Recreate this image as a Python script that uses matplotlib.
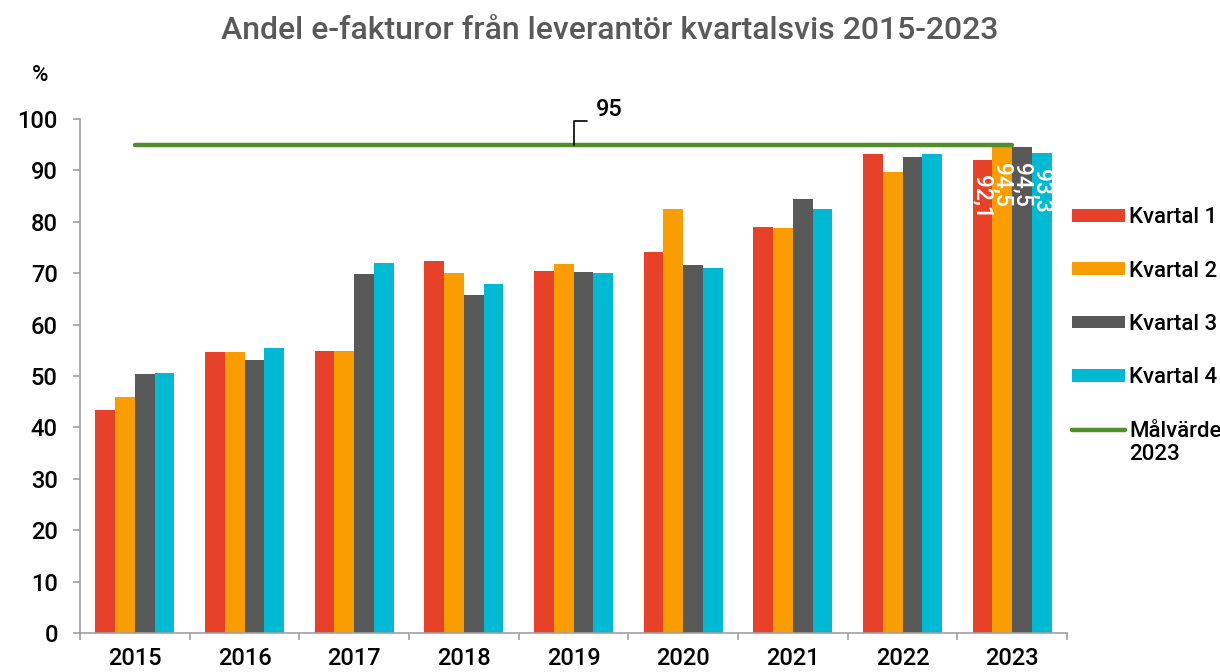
import matplotlib
matplotlib.use('Agg')
import matplotlib.pyplot as plt
import numpy as np

years = ['2015', '2016', '2017', '2018', '2019', '2020', '2021', '2022', '2023']
kvartal_1 = [43.3, 54.6, 54.8, 72.4, 70.5, 74.1, 78.9, 93.2, 92.1]
kvartal_2 = [45.9, 54.7, 54.8, 70.0, 71.8, 82.5, 78.8, 89.6, 94.5]
kvartal_3 = [50.3, 53.2, 69.8, 65.7, 70.2, 71.5, 84.4, 92.5, 94.5]
kvartal_4 = [50.6, 55.5, 71.9, 67.8, 70.0, 71.1, 82.5, 93.2, 93.3]
series_names = ['Kvartal 1', 'Kvartal 2', 'Kvartal 3', 'Kvartal 4']
target = 95
target_label = 'Målvärde'
target_label_2 = '2023'
last_year_labels = ['92,1', '94,5', '94,5', '93,3']

colors = ['#E8412A', '#FA9D00', '#595959', '#00B9D3']
green = '#4E8F2B'

plt.rcParams['font.family'] = ['Roboto', 'DejaVu Sans']
plt.rcParams['font.weight'] = 'medium'

fig = plt.figure(figsize=(12.2, 6.72), dpi=100)
ax = fig.add_axes([0.0656, 0.058, 0.809, 0.765])

x = np.arange(len(years))
w = 0.18
all_series = [kvartal_1, kvartal_2, kvartal_3, kvartal_4]
handles = []
for i, vals in enumerate(all_series):
    pos = x + (i - 1.5) * w
    b = ax.bar(pos, vals, width=w, color=colors[i], label=series_names[i])
    handles.append(b)
    # value labels only on the last year
    ax.text(pos[-1], vals[-1] - 3, last_year_labels[i], rotation=270,
            ha='center', va='top', color='white', fontsize=16.5)

line, = ax.plot([x[0], x[-1]], [target, target], color=green, linewidth=3.2,
                solid_capstyle='round', label=target_label, clip_on=False)
handles.append(line)
ax.annotate(str(target), xy=(x[len(x) // 2], target), xytext=(16, 17),
            textcoords='offset points', ha='left', va='bottom', fontsize=17,
            arrowprops=dict(arrowstyle='-', color='black', lw=1.2, relpos=(0, 0),
                            shrinkA=4, shrinkB=0,
                            connectionstyle='angle,angleA=0,angleB=90,rad=0'))

ax.set_xlim(-0.5, len(years) - 0.5)
ax.set_ylim(0, 100)
ax.set_yticks(range(0, 101, 10))
ax.set_xticks(x)
ax.set_xticklabels(years)
ax.set_xticks(np.arange(len(years) + 1) - 0.5, minor=True)
ax.tick_params(axis='x', which='major', length=0, pad=10, labelsize=17)
ax.tick_params(axis='x', which='minor', length=5, color='#A0A0A0', width=1.2)
ax.tick_params(axis='y', length=5, color='#A0A0A0', width=1.2, pad=11, labelsize=17)
for s in ['top', 'right']:
    ax.spines[s].set_visible(False)
for s in ['left', 'bottom']:
    ax.spines[s].set_color('#A0A0A0')
    ax.spines[s].set_linewidth(1.2)

fig.text(0.5, 0.955, 'Andel e-fakturor från leverantör kvartalsvis 2015-2023',
         ha='center', va='center', fontsize=23, color='#595959')
fig.text(0.033, 0.888, '%', ha='center', va='center', fontsize=16)

leg = ax.legend(handles=handles, loc='upper left', bbox_to_anchor=(0.871, 0.705),
                bbox_transform=fig.transFigure, frameon=False, fontsize=16,
                handlelength=2.4, handleheight=0.5, handletextpad=0.2,
                labelspacing=1.46, borderaxespad=0)

# second line of the target label, placed under "Målvärde"
fig.canvas.draw()
bb = leg.get_texts()[-1].get_window_extent()
fig.text(bb.x0 / fig.bbox.width, (bb.y0 - 2) / fig.bbox.height, target_label_2,
         ha='left', va='top', fontsize=16)

fig.savefig('out.png', dpi=100)
